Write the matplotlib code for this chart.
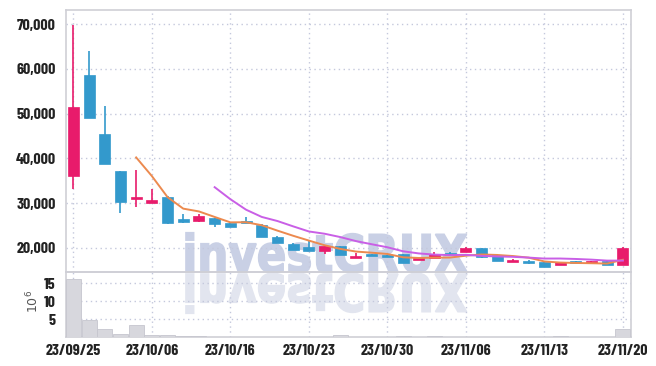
import numpy as np
import pandas as pd
import matplotlib
matplotlib.use('Agg')
import matplotlib.pyplot as plt
from matplotlib import font_manager
from matplotlib.textpath import TextPath
from matplotlib.patches import PathPatch
from matplotlib.font_manager import FontProperties
from matplotlib.transforms import Affine2D

# trading days shown on the chart
dates = ['23/09/25', '23/09/26', '23/09/27', '23/10/04', '23/10/05', '23/10/06',
         '23/10/10', '23/10/11', '23/10/12', '23/10/13', '23/10/16', '23/10/17',
         '23/10/18', '23/10/19', '23/10/20', '23/10/23', '23/10/24', '23/10/25',
         '23/10/26', '23/10/27', '23/10/30', '23/10/31', '23/11/01', '23/11/02',
         '23/11/03', '23/11/06', '23/11/07', '23/11/08', '23/11/09', '23/11/10',
         '23/11/13', '23/11/14', '23/11/15', '23/11/16', '23/11/17', '23/11/20']

opens = [36100, 58650, 45450, 37170, 30970, 30070, 31280, 26420, 26040, 26580,
         25600, 26040, 25080, 22460, 20830, 20220, 19330, 20380, 17700, 18590,
         18300, 18520, 17180, 17760, 18880, 19100, 20000, 18370, 16870, 17090,
         16870, 16200, 17020, 16640, 17020, 16130]
closes = [51560, 49090, 38660, 30290, 31410, 30740, 25460, 25820, 27160, 25240,
          24700, 25600, 22460, 21120, 19490, 19330, 20380, 18370, 18140, 18210,
          17920, 16640, 17630, 18520, 18300, 20000, 17990, 17090, 17310, 16510,
          15750, 16730, 16640, 17020, 16130, 20000]
highs = [69850, 64090, 51780, 37170, 37320, 33200, 31500, 27610, 27540, 26580,
         25700, 26800, 25200, 22700, 21120, 21720, 20500, 20400, 18880, 18700,
         18300, 18600, 17700, 18970, 18950, 20100, 20000, 18400, 17500, 17300,
         16900, 16900, 17100, 17100, 17100, 20100]
lows = [33070, 49090, 38660, 27830, 29040, 30070, 25400, 25600, 25680, 24570,
        24600, 25500, 22300, 21000, 19400, 19300, 18520, 18300, 17650, 18150,
        17850, 16600, 17150, 17700, 18250, 19050, 17630, 17050, 16850, 16450,
        15700, 16150, 16600, 16600, 16050, 16100]
volumes = [16.1, 4.9, 2.3, 0.9, 3.35, 0.6, 0.6, 0.3, 0.25, 0.2, 0.2, 0.2, 0.15,
           0.15, 0.1, 0.1, 0.1, 0.5, 0.1, 0.1, 0.15, 0.3, 0.1, 0.3, 0.1, 0.1,
           0.1, 0.1, 0.1, 0.1, 0.2, 0.3, 0.1, 0.1, 0.1, 2.3]  # millions

price_ticks = [20000, 30000, 40000, 50000, 60000, 70000]
vol_ticks = [5, 10, 15]

UP = '#e81b6b'
DOWN = '#3399cc'
GRID = '#c4c8dc'
SPINE = '#cfcfd6'

names = {f.name for f in font_manager.fontManager.ttflist}
if 'Barlow Condensed' in names:
    label_font, label_size = 'Barlow Condensed', 11.5
else:
    label_font, label_size = 'DejaVu Sans', 9

fig = plt.figure(figsize=(6.56, 3.66), dpi=100)
ax = fig.add_axes([65.5 / 656, 1 - 272.3 / 366, 565.2 / 656, (272.3 - 9.5) / 366])
axv = fig.add_axes([65.5 / 656, 1 - 337.3 / 366, 565.2 / 656, (337.3 - 272.3) / 366])
for a in (ax, axv):
    a.set_facecolor('none')

x = np.arange(len(dates))
o = np.array(opens)
c = np.array(closes)
up = c >= o
colors = np.where(up, UP, DOWN)

ax.vlines(x, lows, highs, colors=colors, linewidth=1.2, zorder=3)
ax.bar(x, np.abs(c - o), bottom=np.minimum(o, c), width=0.7, color=colors,
       edgecolor=colors, linewidth=0.5, zorder=4)

close_s = pd.Series(closes)
ax.plot(x, close_s.rolling(5).mean(), color='#ec8a4f', linewidth=1.4, zorder=5)
ax.plot(x, close_s.rolling(10).mean(), color='#c95fe6', linewidth=1.4, zorder=5)

ax.set_xlim(-0.5, 35.5)
ax.set_ylim(14500, 73300)
ax.set_yticks(price_ticks)
ax.set_yticklabels([f'{v:,}' for v in price_ticks])
ax.set_xticks(x[::5])
ax.tick_params(axis='x', labelbottom=False, length=0)
ax.tick_params(axis='y', length=0, pad=7)

axv.bar(x, volumes, width=0.96, color='#d7d7dd', edgecolor='#c6c6ce', linewidth=0.6, zorder=3)
axv.set_xlim(-0.5, 35.5)
axv.set_ylim(0, 18)
axv.set_yticks(vol_ticks)
axv.set_xticks(x[::5])
axv.set_xticklabels([dates[i] for i in x[::5]])
axv.tick_params(length=0)
axv.tick_params(axis='y', pad=7)
axv.tick_params(axis='x', pad=5)
axv.set_ylabel(r'$10^6$', fontsize=9, color='#555555')
axv.yaxis.set_label_coords(-0.042, 0.55)

for a in (ax, axv):
    a.grid(True, color=GRID, linestyle=(0, (1, 2.5)), linewidth=1)
    a.set_axisbelow(True)
    for s in a.spines.values():
        s.set_color(SPINE)
        s.set_linewidth(1.2)
    for lab in a.get_xticklabels() + a.get_yticklabels():
        lab.set_fontfamily(label_font)
        lab.set_fontweight('bold')
        lab.set_fontsize(label_size)
        lab.set_color('#222222')

# watermark with its reflection
tp = TextPath((0, 0), 'investCRUX', size=50,
              prop=FontProperties(family='DejaVu Sans', weight='bold'))
bb = tp.get_extents()
sx = 281 / bb.width
sy = 40 / bb.height
x0, base = 186, 366 - 272
top = PathPatch(tp, transform=Affine2D().translate(-bb.x0, 0).scale(sx, sy).translate(x0, base),
                facecolor='#c9d0e5', edgecolor='#c9d0e5', linewidth=1.2, zorder=-1)
refl = PathPatch(tp, transform=Affine2D().translate(-bb.x0, 0).scale(sx, -sy).translate(x0, base - 2),
                 facecolor='#e2e5ef', edgecolor='#e2e5ef', linewidth=1.2, zorder=-1)
fig.add_artist(top)
fig.add_artist(refl)

fig.savefig('out.png', dpi=100, facecolor='white')
